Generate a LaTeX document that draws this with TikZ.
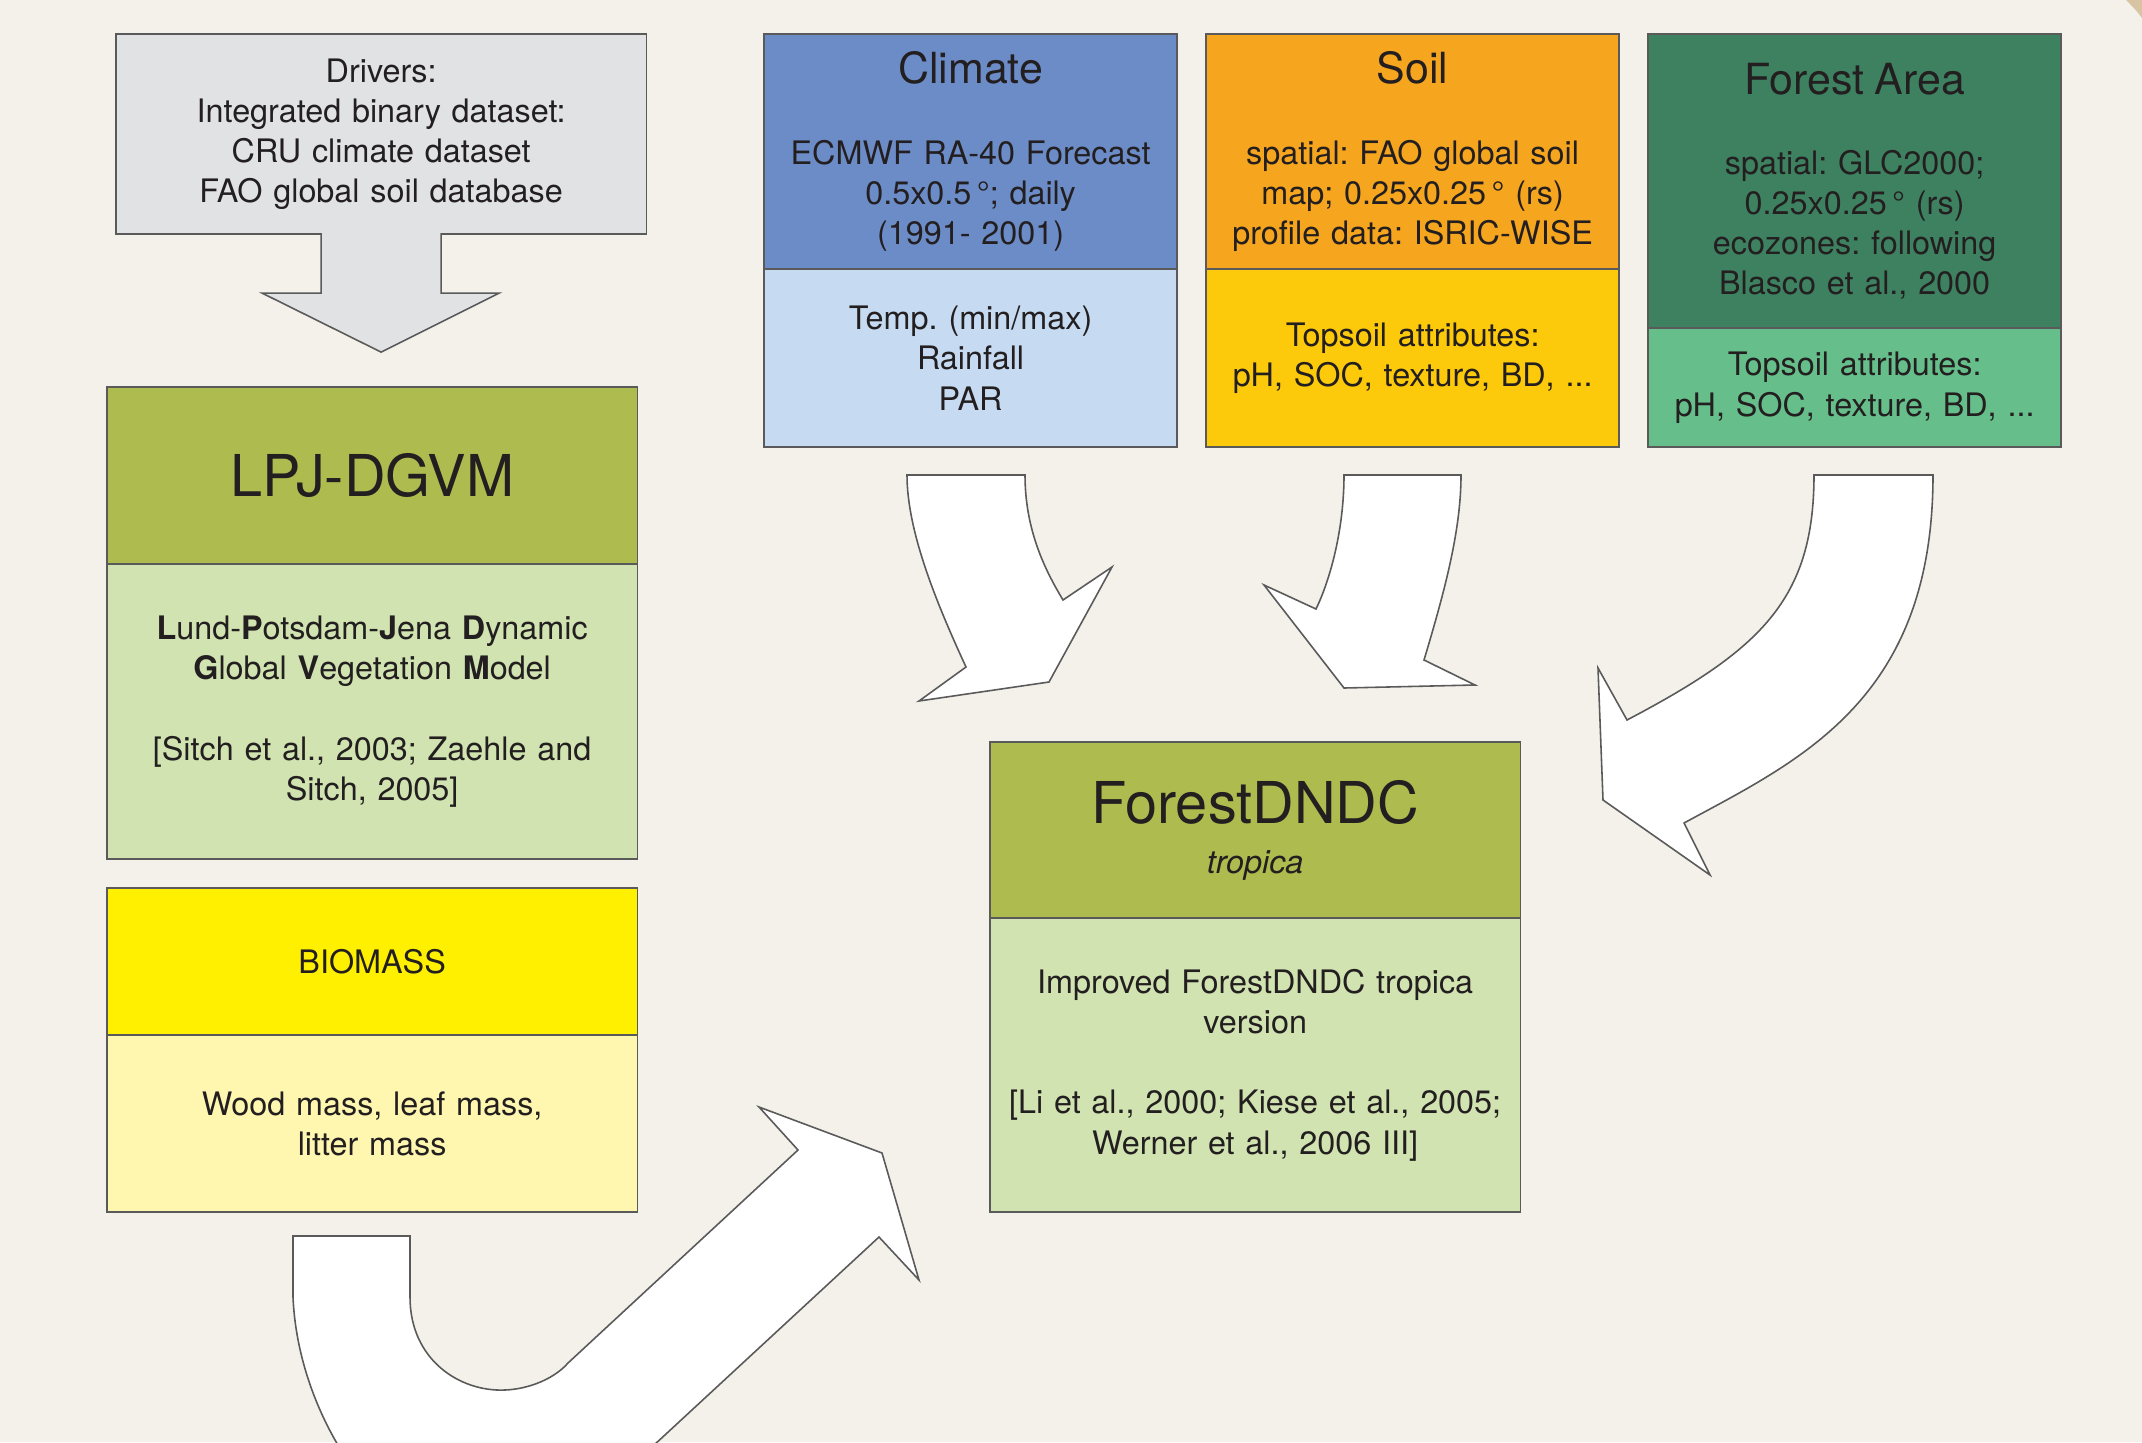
\documentclass[tikz,border=0pt]{standalone}
\usepackage{fontspec}
\setmainfont{TeX Gyre Heros}
\usetikzlibrary{positioning}
\frenchspacing

\definecolor{bg}{HTML}{F4F0EA}
\definecolor{ink}{HTML}{231F20}
\definecolor{boxline}{HTML}{5A5A5A}
\definecolor{drv}{HTML}{E1E2E4}
\definecolor{olive}{HTML}{AEBB4F}
\definecolor{palegreen}{HTML}{D0E3B0}
\definecolor{biomassyellow}{HTML}{FFF000}
\definecolor{paleyellow}{HTML}{FFF7B0}
\definecolor{climateblue}{HTML}{6C8CC8}
\definecolor{paleblue}{HTML}{C6DAF1}
\definecolor{soilorange}{HTML}{F6A51F}
\definecolor{soilgold}{HTML}{FDCA0B}
\definecolor{forestdark}{HTML}{3E8160}
\definecolor{forestmid}{HTML}{66BF8B}
\definecolor{cornertan}{HTML}{D8C3A3}

\newcommand{\txtbody}{\fontsize{9.2}{11.4}\selectfont}
\newcommand{\txttitle}{\fontsize{12.2}{14}\selectfont}
\newcommand{\txtbig}{\fontsize{16.4}{19}\selectfont}

\begin{document}
\begin{tikzpicture}[x=0.01cm,y=-0.01cm,
	box/.style={draw=boxline,line width=0.45pt,rectangle,outer sep=0pt,inner sep=0pt,
		align=center,text=ink,font=\txtbody},
	wide/.style={box,text width=5.3cm},
	narrow/.style={box,text width=4.13cm},
	blockarrow/.style={fill=white,draw=boxline,line width=0.45pt,line join=miter}]
	
	% Page
	\useasboundingbox (0,0) rectangle (2142,1442);
	\fill[bg] (0,0) rectangle (2142,1442);
	\clip (0,0) rectangle (2142,1442);
	\fill[cornertan] (2126,0) .. controls (2132,6) and (2137,11) .. (2142,18) -- (2142,0) -- cycle;
	
	% Drivers
	\node[wide,fill=drv,anchor=north west,minimum height=2cm] (drivers) at (116,34)
		{Drivers:\\Integrated binary dataset:\\CRU climate dataset\\FAO global soil database};
	\path[fill=drv,draw=boxline,line width=0.45pt] (drivers.south) ++(-60,-1) -- ++(0,60) -- ++(-59,0)
		-- ++(119,59) -- ++(118,-59) -- ++(-58,0) -- ++(0,-60);
	
	% LPJ-DGVM
	\node[wide,fill=olive,anchor=north west,minimum height=1.77cm] (lpjH) at (107,387)
		{\txtbig LPJ-DGVM};
	\node[wide,fill=palegreen,below=0pt of lpjH,minimum height=2.95cm] (lpjB)
		{\textbf{L}und-\textbf{P}otsdam-\textbf{J}ena \textbf{D}ynamic\\
		 \textbf{G}lobal \textbf{V}egetation \textbf{M}odel\\[11.4pt]
		 [Sitch et al., 2003; Zaehle and\\Sitch, 2005]};
	
	% Biomass
	\node[wide,fill=biomassyellow,anchor=north west,minimum height=1.47cm] (bioH) at (107,888)
		{BIOMASS};
	\node[wide,fill=paleyellow,below=0pt of bioH,minimum height=1.77cm] (bioB)
		{Wood mass, leaf mass,\\litter mass};
	
	% Climate
	\node[narrow,fill=climateblue,anchor=north west,minimum height=2.35cm] (climateH) at (764,34)
		{{\txttitle Climate}\\[11.4pt]ECMWF RA-40 Forecast\\0.5x0.5\,°; daily\\(1991- 2001)};
	\node[narrow,fill=paleblue,below=0pt of climateH,minimum height=1.78cm] (climateB)
		{Temp. (min/max)\\Rainfall\\PAR};
	
	% Soil
	\node[narrow,fill=soilorange,anchor=north west,minimum height=2.35cm] (soilH) at (1206,34)
		{{\txttitle Soil}\\[11.4pt]spatial: FAO global soil\\map; 0.25x0.25\,° (rs)\\profile data: ISRIC-WISE};
	\node[narrow,fill=soilgold,below=0pt of soilH,minimum height=1.78cm] (soilB)
		{Topsoil attributes:\\pH, SOC, texture, BD, ...};
	
	% Forest area
	\node[narrow,fill=forestdark,anchor=north west,minimum height=2.94cm] (forestH) at (1648,34)
		{{\txttitle Forest Area}\\[11.4pt]spatial: GLC2000;\\0.25x0.25\,° (rs)\\ecozones: following\\Blasco et al., 2000};
	\node[narrow,fill=forestmid,below=0pt of forestH,minimum height=1.19cm] (forestB)
		{Topsoil attributes:\\pH, SOC, texture, BD, ...};
	
	% ForestDNDC
	\node[wide,fill=olive,anchor=north west,minimum height=1.76cm] (dndcH) at (990,742)
		{{\txtbig ForestDNDC}\\[2.8pt]\textit{tropica}};
	\node[wide,fill=palegreen,below=0pt of dndcH,minimum height=2.94cm] (dndcB)
		{Improved ForestDNDC tropica\\version\\[11.4pt][Li et al., 2000; Kiese et al., 2005;\\Werner et al., 2006 III]};
	
	% Curved arrows into ForestDNDC
	\path[blockarrow] (907,475) -- (1025,475) .. controls (1025,530) and (1045,570) .. (1063,600)
		-- (1112,567) -- (1049,682) -- (919,701) -- (966,667)
		.. controls (935,600) and (907,530) .. (907,475) -- cycle;
	\path[blockarrow] (1344,475) -- (1461,475) .. controls (1461,530) and (1445,590) .. (1424,660)
		-- (1475,685) -- (1344,688) -- (1264,585) -- (1316,609)
		.. controls (1330,580) and (1344,530) .. (1344,475) -- cycle;
	\path[blockarrow] (1814,475) -- (1933,475) .. controls (1933,700) and (1800,760) .. (1684,823)
		-- (1710,875) -- (1603,800) -- (1598,668) -- (1627,720)
		.. controls (1760,650) and (1814,600) .. (1814,475) -- cycle;
	
	% Biomass to ForestDNDC
	\path[blockarrow] (293,1236) -- (410,1236) -- (410,1297)
		.. controls (410,1360) and (460,1392) .. (505,1390)
		.. controls (530,1389) and (555,1378) .. (568,1363)
		-- (798,1150) -- (759,1107) -- (882,1153) -- (919,1280) -- (879,1237)
		-- (560,1532) .. controls (450,1620) and (300,1460) .. (293,1297) -- cycle;
\end{tikzpicture}
\end{document}
